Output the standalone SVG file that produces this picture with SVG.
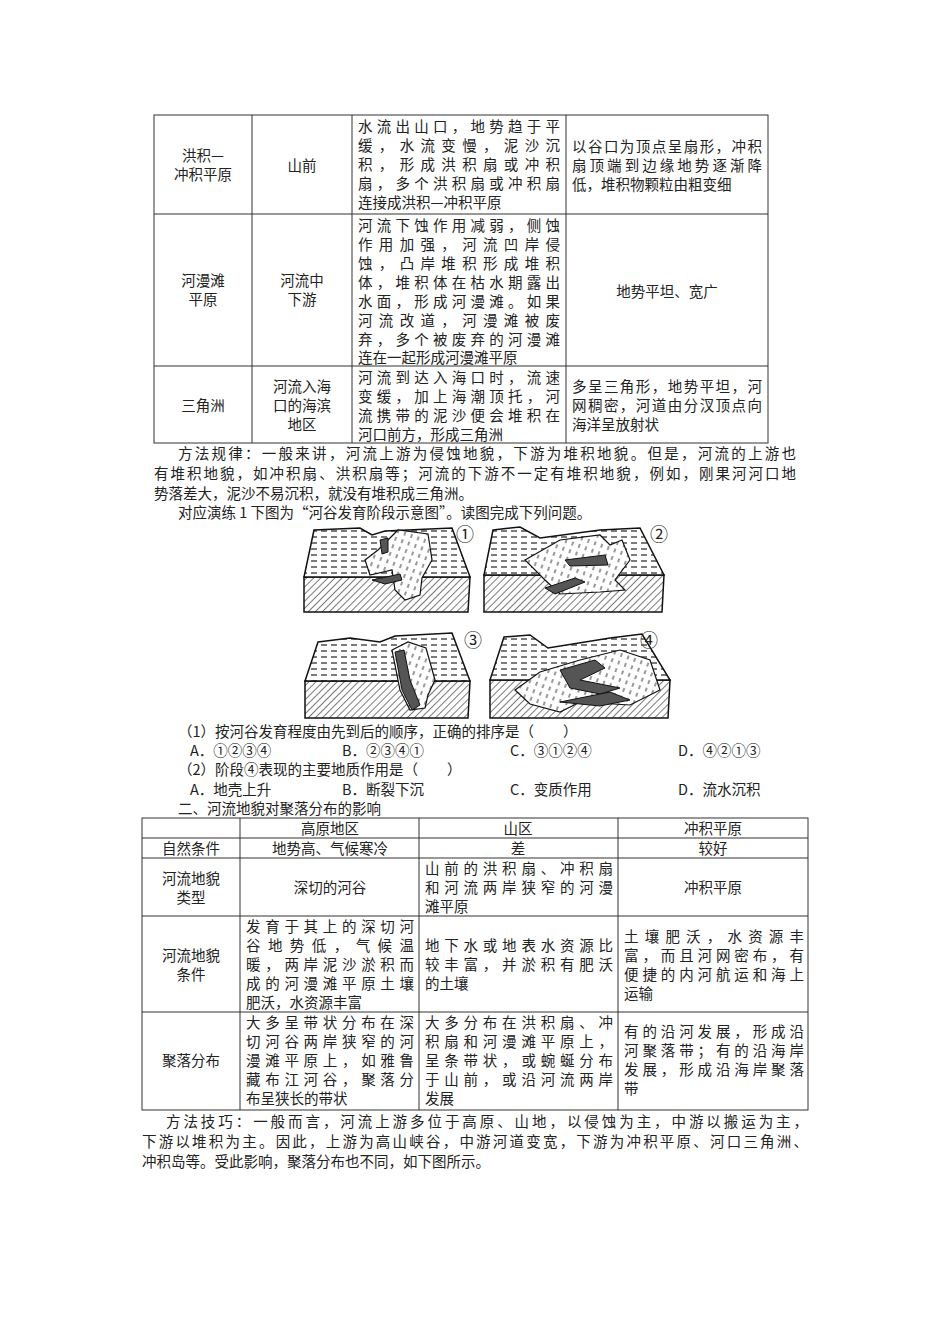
<svg xmlns="http://www.w3.org/2000/svg" width="950" height="1344" viewBox="0 0 950 1344">
<style>
text{font-family:"Noto Sans CJK SC","Noto Sans",sans-serif;font-size:14.5px;fill:#222}
.c{text-anchor:middle}
.g{fill:none;stroke:#333;stroke-width:1}
.top{fill:url(#dash);stroke:#111;stroke-width:1.5}
.front{fill:url(#hatch);stroke:#111;stroke-width:1.5}
.riv{fill:#555;stroke:#111;stroke-width:1}
.lt{fill:url(#vd);stroke:#111;stroke-width:1.2}
.num{font-size:18px}
</style>
<defs>
<pattern id="dash" width="10" height="6" patternUnits="userSpaceOnUse"><rect width="10" height="6" fill="#fff"/><line x1="1" y1="3" x2="7" y2="3" stroke="#222" stroke-width="1.2"/></pattern>
<pattern id="hatch" width="5" height="5" patternUnits="userSpaceOnUse" patternTransform="rotate(45)"><rect width="5" height="5" fill="#fff"/><line x1="0" y1="0" x2="0" y2="5" stroke="#222" stroke-width="1.2"/></pattern>
<pattern id="vd" width="7" height="8" patternUnits="userSpaceOnUse" patternTransform="rotate(20)"><rect width="7" height="8" fill="#fff"/><line x1="3" y1="1" x2="3" y2="5" stroke="#333" stroke-width="1"/></pattern>
</defs>
<rect width="950" height="1344" fill="#fff"/>

<g id="table1">
<g class="g">
<rect x="154" y="115" width="614" height="328"/>
<line x1="252" y1="115" x2="252" y2="443"/><line x1="352" y1="115" x2="352" y2="443"/><line x1="566" y1="115" x2="566" y2="443"/>
<line x1="154" y1="214" x2="768" y2="214"/><line x1="154" y1="366" x2="768" y2="366"/>
</g>
<text class="c" x="203" y="161">洪积—</text><text class="c" x="203" y="180">冲积平原</text>
<text class="c" x="302" y="171">山前</text>
<text x="358" y="132" textLength="202" lengthAdjust="spacing">水流出山口，地势趋于平</text>
<text x="358" y="151" textLength="202" lengthAdjust="spacing">缓，水流变慢，泥沙沉</text>
<text x="358" y="170" textLength="202" lengthAdjust="spacing">积，形成洪积扇或冲积</text>
<text x="358" y="189" textLength="202" lengthAdjust="spacing">扇，多个洪积扇或冲积扇</text>
<text x="358" y="208">连接成洪积—冲积平原</text>
<text x="572" y="152" textLength="190" lengthAdjust="spacing">以谷口为顶点呈扇形，冲积</text>
<text x="572" y="171" textLength="190" lengthAdjust="spacing">扇顶端到边缘地势逐渐降</text>
<text x="572" y="190">低，堆积物颗粒由粗变细</text>
<text class="c" x="203" y="286">河漫滩</text><text class="c" x="203" y="305">平原</text>
<text class="c" x="302" y="286">河流中</text><text class="c" x="302" y="305">下游</text>
<text x="358" y="231" textLength="202" lengthAdjust="spacing">河流下蚀作用减弱，侧蚀</text>
<text x="358" y="250" textLength="202" lengthAdjust="spacing">作用加强，河流凹岸侵</text>
<text x="358" y="269" textLength="202" lengthAdjust="spacing">蚀，凸岸堆积形成堆积</text>
<text x="358" y="288" textLength="202" lengthAdjust="spacing">体，堆积体在枯水期露出</text>
<text x="358" y="307" textLength="202" lengthAdjust="spacing">水面，形成河漫滩。如果</text>
<text x="358" y="326" textLength="202" lengthAdjust="spacing">河流改道，河漫滩被废</text>
<text x="358" y="345" textLength="202" lengthAdjust="spacing">弃，多个被废弃的河漫滩</text>
<text x="358" y="363">连在一起形成河漫滩平原</text>
<text class="c" x="667" y="297">地势平坦、宽广</text>
<text class="c" x="203" y="411">三角洲</text>
<text class="c" x="302" y="392">河流入海</text><text class="c" x="302" y="411">口的海滨</text><text class="c" x="302" y="430">地区</text>
<text x="358" y="383" textLength="202" lengthAdjust="spacing">河流到达入海口时，流速</text>
<text x="358" y="402" textLength="202" lengthAdjust="spacing">变缓，加上海潮顶托，河</text>
<text x="358" y="421" textLength="202" lengthAdjust="spacing">流携带的泥沙便会堆积在</text>
<text x="358" y="440">河口前方，形成三角洲</text>
<text x="572" y="392" textLength="190" lengthAdjust="spacing">多呈三角形，地势平坦，河</text>
<text x="572" y="411" textLength="190" lengthAdjust="spacing">网稠密，河道由分汊顶点向</text>
<text x="572" y="430">海洋呈放射状</text>
</g>

<g id="text1">
<text x="178" y="459" textLength="618" lengthAdjust="spacing">方法规律：一般来讲，河流上游为侵蚀地貌，下游为堆积地貌。但是，河流的上游也</text>
<text x="154" y="479" textLength="642" lengthAdjust="spacing">有堆积地貌，如冲积扇、洪积扇等；河流的下游不一定有堆积地貌，例如，刚果河河口地</text>
<text x="154" y="499">势落差大，泥沙不易沉积，就没有堆积成三角洲。</text>
<text x="178" y="518">对应演练 1 下图为“河谷发育阶段示意图”。读图完成下列问题。</text>
</g>

<g id="figure">
<g id="b1">
<polygon class="front" points="304,577 470,577 468,612 304,612"/>
<polygon class="top" points="314,530 360,528 372,535 385,531 452,528 470,577 304,577"/>
<path class="lt" d="M390,538 L398,530 L428,534 L432,560 L422,578 L420,595 L405,600 L395,590 L392,570 L370,575 L365,560 L378,550 Z"/>
<path class="riv" d="M380,540 L388,538 L388,552 L382,554 Z"/>
<path class="riv" d="M372,580 L400,574 L402,580 L385,584 Z"/>
<text class="num" x="456" y="541">①</text>
</g>
<g id="b2">
<polygon class="front" points="484,575 664,575 662,612 484,612"/>
<polygon class="top" points="493,530 520,527 540,538 600,530 640,528 664,575 484,575"/>
<path class="lt" d="M525,560 L560,540 L600,535 L610,545 L622,540 L630,560 L615,580 L625,590 L600,592 L560,594 L545,580 Z"/>
<path class="riv" d="M565,560 L605,555 L608,565 L570,566 Z"/>
<path class="riv" d="M545,588 L575,578 L585,582 L555,594 Z"/>
<text class="num" x="650" y="541">②</text>
</g>
<g id="b3">
<polygon class="front" points="305,681 470,681 468,718 305,718"/>
<polygon class="top" points="318,642 350,638 380,642 395,636 452,633 470,681 305,681"/>
<path class="lt" d="M392,650 L408,642 L426,648 L435,680 L428,695 L425,708 L410,710 L400,690 Z"/>
<path class="riv" d="M395,652 L404,650 L410,680 L420,705 L412,710 L402,690 Z"/>
<text class="num" x="464" y="647">③</text>
</g>
<g id="b4">
<polygon class="front" points="490,680 670,680 668,718 490,718"/>
<polygon class="top" points="504,637 530,635 548,648 610,638 642,634 670,680 490,680"/>
<path class="lt" d="M515,690 L540,672 L580,660 L620,650 L650,660 L660,690 L630,705 L580,702 L560,712 L530,704 Z"/>
<path class="riv" d="M560,670 L595,660 L605,668 L580,680 L620,688 L600,694 L570,688 Z"/>
<path class="riv" d="M560,702 L610,692 L630,700 L600,706 Z"/>
<text class="num" x="640" y="647">④</text>
</g>
</g>

<g id="questions">
<text x="178" y="737">（1）按河谷发育程度由先到后的顺序，正确的排序是（　　）</text>
<text x="190" y="756">A．①②③④</text><text x="342" y="756">B．②③④①</text><text x="510" y="756">C．③①②④</text><text x="678" y="756">D．④②①③</text>
<text x="178" y="775">（2）阶段④表现的主要地质作用是（　　）</text>
<text x="190" y="795">A．地壳上升</text><text x="342" y="795">B．断裂下沉</text><text x="510" y="795">C．变质作用</text><text x="678" y="795">D．流水沉积</text>
<text x="178" y="814">二、河流地貌对聚落分布的影响</text>
</g>

<g id="table2">
<g class="g">
<rect x="142" y="818" width="666" height="292"/>
<line x1="240" y1="818" x2="240" y2="1110"/><line x1="419" y1="818" x2="419" y2="1110"/><line x1="618" y1="818" x2="618" y2="1110"/>
<line x1="142" y1="838" x2="808" y2="838"/><line x1="142" y1="858" x2="808" y2="858"/><line x1="142" y1="916" x2="808" y2="916"/><line x1="142" y1="1012" x2="808" y2="1012"/>
</g>
<text class="c" x="330" y="834">高原地区</text><text class="c" x="518" y="834">山区</text><text class="c" x="713" y="834">冲积平原</text>
<text class="c" x="191" y="854">自然条件</text><text class="c" x="330" y="854">地势高、气候寒冷</text><text class="c" x="518" y="854">差</text><text class="c" x="713" y="854">较好</text>
<text class="c" x="191" y="884">河流地貌</text><text class="c" x="191" y="903">类型</text>
<text class="c" x="330" y="893">深切的河谷</text>
<text x="425" y="874" textLength="188" lengthAdjust="spacing">山前的洪积扇、冲积扇</text>
<text x="425" y="893" textLength="188" lengthAdjust="spacing">和河流两岸狭窄的河漫</text>
<text x="425" y="912">滩平原</text>
<text class="c" x="713" y="893">冲积平原</text>
<text class="c" x="191" y="961">河流地貌</text><text class="c" x="191" y="980">条件</text>
<text x="246" y="932" textLength="168" lengthAdjust="spacing">发育于其上的深切河</text>
<text x="246" y="951" textLength="168" lengthAdjust="spacing">谷地势低，气候温</text>
<text x="246" y="970" textLength="168" lengthAdjust="spacing">暖，两岸泥沙淤积而</text>
<text x="246" y="989" textLength="168" lengthAdjust="spacing">成的河漫滩平原土壤</text>
<text x="246" y="1008">肥沃，水资源丰富</text>
<text x="425" y="951" textLength="188" lengthAdjust="spacing">地下水或地表水资源比</text>
<text x="425" y="970" textLength="188" lengthAdjust="spacing">较丰富，并淤积有肥沃</text>
<text x="425" y="989">的土壤</text>
<text x="624" y="942" textLength="180" lengthAdjust="spacing">土壤肥沃，水资源丰</text>
<text x="624" y="961" textLength="180" lengthAdjust="spacing">富，而且河网密布，有</text>
<text x="624" y="980" textLength="180" lengthAdjust="spacing">便捷的内河航运和海上</text>
<text x="624" y="999">运输</text>
<text class="c" x="191" y="1066">聚落分布</text>
<text x="246" y="1028" textLength="168" lengthAdjust="spacing">大多呈带状分布在深</text>
<text x="246" y="1047" textLength="168" lengthAdjust="spacing">切河谷两岸狭窄的河</text>
<text x="246" y="1066" textLength="168" lengthAdjust="spacing">漫滩平原上，如雅鲁</text>
<text x="246" y="1085" textLength="168" lengthAdjust="spacing">藏布江河谷，聚落分</text>
<text x="246" y="1104">布呈狭长的带状</text>
<text x="425" y="1028" textLength="188" lengthAdjust="spacing">大多分布在洪积扇、冲</text>
<text x="425" y="1047" textLength="188" lengthAdjust="spacing">积扇和河漫滩平原上，</text>
<text x="425" y="1066" textLength="188" lengthAdjust="spacing">呈条带状，或蜿蜒分布</text>
<text x="425" y="1085" textLength="188" lengthAdjust="spacing">于山前，或沿河流两岸</text>
<text x="425" y="1104">发展</text>
<text x="624" y="1037" textLength="180" lengthAdjust="spacing">有的沿河发展，形成沿</text>
<text x="624" y="1056" textLength="180" lengthAdjust="spacing">河聚落带；有的沿海岸</text>
<text x="624" y="1075" textLength="180" lengthAdjust="spacing">发展，形成沿海岸聚落</text>
<text x="624" y="1094">带</text>
</g>

<g id="text2">
<text x="166" y="1127" textLength="642" lengthAdjust="spacing">方法技巧：一般而言，河流上游多位于高原、山地，以侵蚀为主，中游以搬运为主，</text>
<text x="142" y="1147" textLength="666" lengthAdjust="spacing">下游以堆积为主。因此，上游为高山峡谷，中游河道变宽，下游为冲积平原、河口三角洲、</text>
<text x="142" y="1167">冲积岛等。受此影响，聚落分布也不同，如下图所示。</text>
</g>
</svg>
